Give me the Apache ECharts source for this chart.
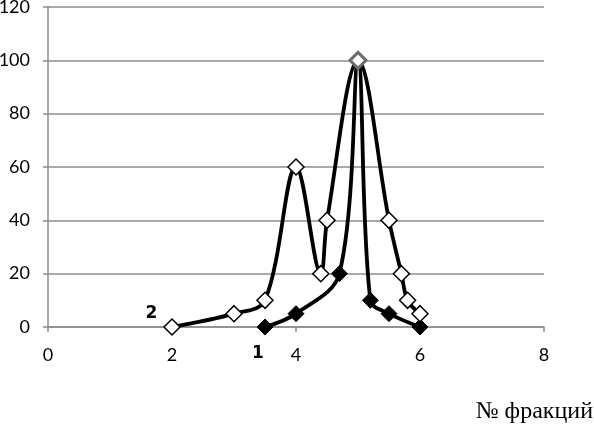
<!DOCTYPE html>
<html><head><meta charset="utf-8">
<script src="https://cdn.jsdelivr.net/npm/echarts@6/dist/echarts.min.js"></script>
<style>html,body{margin:0;padding:0;background:#fff}#c{width:594px;height:427px}</style>
</head><body><div id="c"></div>
<script>
var xTicks = [0, 2, 4, 6, 8];
var yTicks = [0, 20, 40, 60, 80, 100, 120];
var s2X = [2, 3, 3.5, 4, 4.4, 4.5, 5, 5.5, 5.7, 5.8, 6];
var s2Y = [0, 5, 10, 60, 20, 40, 100, 40, 20, 10, 5];
var s1X = [3.5, 4, 4.7, 5, 5.2, 5.5, 6];
var s1Y = [0, 5, 20, 100, 10, 5, 0];
var seriesNames = ['1', '2'];
var axisTitle = '№ фракций';

function pairs(xs, ys){ return xs.map(function(x,i){ return [x, ys[i]]; }); }
var d2 = pairs(s2X, s2Y);
var d1 = pairs(s1X, s1Y);
d2[0] = {value: d2[0], label: {show: true, formatter: seriesNames[1], position: 'left', distance: 6, offset: [0, -13],
  fontFamily: 'DejaVu Sans', fontWeight: 'bold', fontSize: 17, color: '#000'}};
d1[0] = {value: d1[0], label: {show: true, formatter: seriesNames[0], position: 'bottom', distance: 8, offset: [-7, 2],
  fontFamily: 'DejaVu Sans', fontWeight: 'bold', fontSize: 17, color: '#000'}};
d2[6] = {value: d2[6], itemStyle: {color: '#fff', borderColor: '#6e6e6e', borderWidth: 3}};

var chart = echarts.init(document.getElementById('c'), null, {renderer: 'canvas'});
var axisLabel = {color: '#000', fontFamily: 'Lato', fontSize: 18};
chart.setOption({
  animation: false,
  grid: {left: 48, right: 50, top: 7, bottom: 100, containLabel: false, outerBoundsMode: 'none'},
  xAxis: {type: 'value', min: xTicks[0], max: xTicks[xTicks.length-1], interval: 2,
    axisLine: {show: true, onZero: false, lineStyle: {color: '#8c8c8c', width: 1.5}},
    axisTick: {show: true, length: 5, lineStyle: {color: '#8c8c8c', width: 1.5}},
    axisLabel: Object.assign({margin: 19}, axisLabel),
    splitLine: {show: false}},
  yAxis: {type: 'value', min: yTicks[0], max: yTicks[yTicks.length-1], interval: 20,
    axisLine: {show: true, lineStyle: {color: '#8c8c8c', width: 1.5}},
    axisTick: {show: true, length: 5, lineStyle: {color: '#8c8c8c', width: 1.5}},
    axisLabel: Object.assign({margin: 18}, axisLabel),
    splitLine: {show: true, lineStyle: {color: '#8c8c8c', width: 1.5}}},
  graphic: [{type: 'text', right: 1, top: 400, style: {text: axisTitle, fontFamily: 'Liberation Serif', fontSize: 24, fill: '#000'}}],
  series: [
    {name: seriesNames[0], type: 'line', data: d1, smooth: 0.35, z: 3,
      lineStyle: {color: '#000', width: 3.8},
      symbol: 'diamond', symbolSize: 16,
      itemStyle: {color: '#000', borderColor: '#000', borderWidth: 1}},
    {name: seriesNames[1], type: 'line', data: d2, smooth: 0.35, z: 4,
      lineStyle: {color: '#000', width: 3.8},
      symbol: 'diamond', symbolSize: 16,
      itemStyle: {color: '#fff', borderColor: '#000', borderWidth: 1.5}}
  ]
});
</script></body></html>
